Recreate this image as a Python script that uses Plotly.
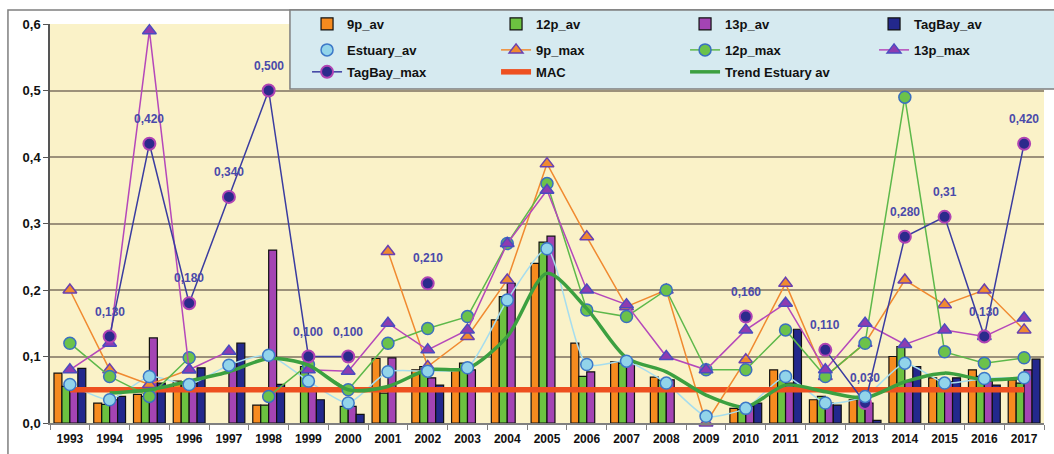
import plotly.graph_objects as go

# Years on the category axis
years = [str(y) for y in range(1993, 2018)]

# Average concentrations per station (bars)
p9_av = [0.075, 0.030, 0.043, 0.063, None, 0.027, None, None, 0.097, 0.080, 0.080, 0.155, 0.240,
         0.120, 0.092, 0.069, None, 0.022, 0.080, 0.035, 0.035, 0.100, 0.068, 0.080, 0.065]
p12_av = [0.055, 0.028, 0.040, 0.060, None, 0.027, 0.085, 0.025, 0.045, 0.085, 0.090, 0.190, 0.272,
          0.070, 0.090, 0.065, None, 0.020, 0.065, 0.040, 0.040, 0.115, 0.065, 0.070, 0.060]
p13_av = [0.050, 0.035, 0.128, 0.060, 0.090, 0.260, 0.050, 0.025, 0.098, 0.068, 0.080, 0.210, 0.281,
          0.077, 0.090, 0.065, None, 0.025, 0.060, 0.030, 0.030, 0.062, 0.062, 0.063, 0.080]
tagbay_av = [0.082, 0.040, 0.060, 0.083, 0.120, 0.058, 0.035, 0.013, None, 0.057, None, None, None,
             None, None, None, None, 0.030, 0.141, 0.027, 0.004, 0.085, 0.068, 0.057, 0.096]

# Estuary average and maxima per station (lines)
estuary_av = [0.058, 0.035, 0.070, 0.058, 0.087, 0.102, 0.063, 0.030, 0.077, 0.078, 0.083, 0.185, 0.262,
              0.088, 0.093, 0.060, 0.010, 0.022, 0.070, 0.030, 0.040, 0.090, 0.060, 0.067, 0.068]
p9_max = [0.200, 0.080, 0.058, 0.080, None, None, None, None, 0.258, 0.085, 0.130, 0.215, 0.390,
          0.280, 0.175, 0.200, 0.000, 0.095, 0.210, 0.070, 0.120, 0.215, 0.178, 0.200, 0.140]
p12_max = [0.120, 0.070, 0.040, 0.098, None, 0.040, 0.088, 0.050, 0.120, 0.142, 0.160, 0.270, 0.360,
           0.170, 0.160, 0.200, 0.080, 0.080, 0.140, 0.070, 0.120, 0.490, 0.107, 0.090, 0.098]
p13_max = [0.080, 0.120, 0.590, 0.080, 0.108, None, 0.080, 0.078, 0.150, 0.110, 0.140, 0.270, 0.350,
           0.200, 0.178, 0.100, 0.080, 0.140, 0.180, 0.080, 0.150, 0.118, 0.140, 0.130, 0.158]
tagbay_max = [None, 0.130, 0.420, 0.180, 0.340, 0.500, 0.100, 0.100, None, 0.210, None, None, None,
              None, None, None, None, 0.160, None, 0.110, 0.030, 0.280, 0.310, 0.130, 0.420]
# decimals shown in each TagBay_max value label
tagbay_max_decimals = [3] * 22 + [2, 3, 3]

mac = [0.05] * 25
trend_estuary = [None, 0.045, 0.050, 0.063, 0.077, 0.097, 0.087, 0.050, 0.055, 0.080, 0.082, 0.130, 0.225,
                 0.172, 0.098, 0.077, 0.042, 0.024, 0.057, 0.047, 0.038, 0.062, 0.075, 0.065, 0.068]

FONT = "Liberation Sans, Arial, sans-serif"

fig = go.Figure()

bar_line = dict(color="#111111", width=1.2)
for rank, (name, vals, col) in enumerate([("9p_av", p9_av, "#F68B1F"), ("12p_av", p12_av, "#6CC240"),
                                          ("13p_av", p13_av, "#A444B4"),
                                          ("TagBay_av", tagbay_av, "#23288C")]):
    fig.add_trace(go.Bar(x=years, y=vals, name=name, marker=dict(color=col, line=bar_line),
                         legend="legend", legendrank=rank + 1))

# faint connecting line for the estuary average
fig.add_trace(go.Scatter(x=years, y=estuary_av, mode="lines", showlegend=False,
                         line=dict(color="#A6DDEE", width=1.5, shape="spline", smoothing=0.6)))

fig.add_trace(go.Scatter(x=years, y=mac, mode="lines", name="MAC", legend="legend3", legendrank=2,
                         line=dict(color="#EE5020", width=5.5)))

fig.add_trace(go.Scatter(x=years, y=p9_max, mode="lines+markers", name="9p_max", legend="legend2",
                         legendrank=2, cliponaxis=False,
                         line=dict(color="#F08A30", width=1.5),
                         marker=dict(symbol="triangle-up", size=12, color="#F08A30",
                                     line=dict(color="#6A40B0", width=1.5))))
fig.add_trace(go.Scatter(x=years, y=p12_max, mode="lines+markers", name="12p_max", legend="legend2",
                         legendrank=3, cliponaxis=False,
                         line=dict(color="#5DB84A", width=1.5),
                         marker=dict(symbol="circle", size=12, color="#6CC24A",
                                     line=dict(color="#3A6FC0", width=1.5))))
fig.add_trace(go.Scatter(x=years, y=p13_max, mode="lines+markers", name="13p_max", legend="legend2",
                         legendrank=4, cliponaxis=False,
                         line=dict(color="#B548BA", width=1.5),
                         marker=dict(symbol="triangle-up", size=12, color="#8E3CB0",
                                     line=dict(color="#4B4BC0", width=1.5))))
fig.add_trace(go.Scatter(x=years, y=tagbay_max, mode="lines+markers", name="TagBay_max",
                         legend="legend3", legendrank=1, cliponaxis=False,
                         line=dict(color="#3A3CA0", width=1.5),
                         marker=dict(symbol="circle", size=12, color="#2C2A8C",
                                     line=dict(color="#B044B4", width=2))))

fig.add_trace(go.Scatter(x=years, y=trend_estuary, mode="lines", name="Trend Estuary av",
                         legend="legend3", legendrank=3,
                         line=dict(color="#3CA040", width=3.5, shape="spline", smoothing=0.8)))

fig.add_trace(go.Scatter(x=years, y=estuary_av, mode="markers", name="Estuary_av", legend="legend2",
                         legendrank=1, cliponaxis=False,
                         marker=dict(symbol="circle", size=12, color="#92D4EA",
                                     line=dict(color="#3C78C8", width=1.5))))

# value labels above the TagBay maxima (x given as category index)
for i, (v, d) in enumerate(zip(tagbay_max, tagbay_max_decimals)):
    if v is None:
        continue
    fig.add_annotation(x=i, y=v, text=f"{v:.{d}f}".replace(".", ","), showarrow=False,
                       yshift=25, font=dict(family=FONT, size=12, color="#4A4AAA", weight="bold"))

# fixed legend rows
legend_x = 0.2586
legend_common = dict(orientation="h", x=legend_x, xanchor="left", yanchor="middle",
                     bgcolor="rgba(0,0,0,0)", borderwidth=0, entrywidth=144,
                     entrywidthmode="pixels", traceorder="normal",
                     font=dict(family=FONT, size=13, color="#111111", weight="bold"))

fig.update_layout(
    width=1054, height=454,
    margin=dict(l=50, r=10, t=24, b=31, autoexpand=False),
    paper_bgcolor="white",
    plot_bgcolor="#FAF2C8",
    barmode="group", bargap=0.2, bargroupgap=0,
    separators=", ",
    showlegend=True,
    legend=dict(y=1.0, **legend_common),
    legend2=dict(y=0.935, **legend_common),
    legend3=dict(y=0.880, **legend_common),
    xaxis=dict(type="category", range=[-0.5, len(years) - 0.5], tickson="boundaries",
               ticks="outside", ticklen=5, ticklabelstandoff=4,
               tickcolor="#808080", showline=True, linecolor="#808080", linewidth=1.5,
               showgrid=False, tickangle=0,
               tickfont=dict(family=FONT, size=12, color="#111111", weight="bold")),
    yaxis=dict(range=[0, 0.6], dtick=0.1, tickformat=".1f", ticks="outside", ticklen=5,
               tickcolor="#555555", showline=True, linecolor="#555555", linewidth=1.5,
               showgrid=True, gridcolor="#9C917A", gridwidth=1.5, zeroline=False,
               tickfont=dict(family=FONT, size=13, color="#111111", weight="bold")),
    shapes=[
        # chart frame
        dict(type="rect", xref="paper", yref="paper", x0=-0.0423, x1=1.03, y0=-0.2, y1=1.035,
             line=dict(color="#7F7F7F", width=1.5), fillcolor="rgba(0,0,0,0)", layer="below"),
        # legend panel
        dict(type="rect", xref="paper", yref="paper", x0=0.2414, x1=1.03, y0=0.837, y1=1.035,
             line=dict(color="#7F7F7F", width=1.5), fillcolor="#D6EAF0", layer="above"),
    ],
)

fig.write_html("out.html")
